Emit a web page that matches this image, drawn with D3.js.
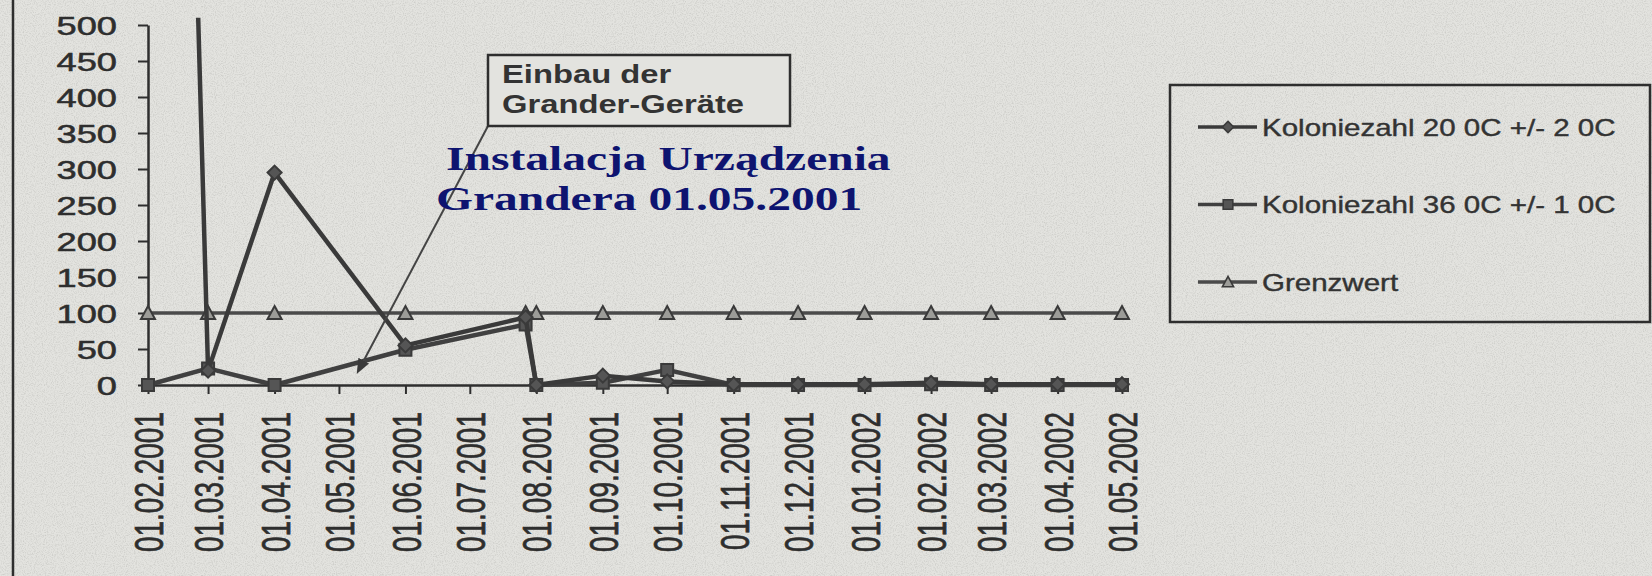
<!DOCTYPE html>
<html>
<head>
<meta charset="utf-8">
<script src="https://cdn.jsdelivr.net/npm/d3@7"></script>
<style>
  html, body { margin: 0; padding: 0; background: #e3e3df; }
  svg { display: block; }
</style>
</head>
<body>
<div id="chart"></div>
<script>
// sampling dates and values
const sampleDates = ['01.02.2001', '01.03.2001', '01.04.2001', '01.06.2001', '27.07.2001', '01.08.2001',
  '01.09.2001', '01.10.2001', '01.11.2001', '01.12.2001', '01.01.2002', '01.02.2002',
  '01.03.2002', '01.04.2002', '01.05.2002'];
const kolonie20 = [3000, 20, 295, 55, 94, 0, 13, 5, 1, 1, 1, 3, 1, 1, 1];
const kolonie36 = [0, 23, 0, 49, 84, 0, 3, 21, 0, 0, 0, 1, 0, 0, 0];
const grenzwert = [100, 100, 100, 100, 100, 100, 100, 100, 100, 100, 100, 100, 100, 100, 100];

const seriesNames = ['Koloniezahl 20 0C +/- 2 0C', 'Koloniezahl 36 0C +/- 1 0C', 'Grenzwert'];
const markerTypes = ['diamond', 'square', 'triangle'];

const xTickLabels = ['01.02.2001', '01.03.2001', '01.04.2001', '01.05.2001', '01.06.2001', '01.07.2001',
  '01.08.2001', '01.09.2001', '01.10.2001', '01.11.2001', '01.12.2001', '01.01.2002',
  '01.02.2002', '01.03.2002', '01.04.2002', '01.05.2002'];
const yTicks = [0, 50, 100, 150, 200, 250, 300, 350, 400, 450, 500];

const noteBox = ['Einbau der', 'Grander-Geräte'];
const noteBig = ['Instalacja Urządzenia', 'Grandera 01.05.2001'];

const w = 1652, h = 576;
const ink = '#2e2e2e';
const stretch = 1.45; // the scan is stretched sideways
const sans = '"Liberation Sans", Arial, sans-serif';

const parse = d3.timeParse('%d.%m.%Y');

const svg = d3.select('#chart').append('svg')
  .attr('width', w)
  .attr('height', h);

const defs = svg.append('defs');

// paper speckle
const f = defs.append('filter').attr('id', 'paper')
  .attr('x', 0).attr('y', 0).attr('width', '100%').attr('height', '100%');
f.append('feTurbulence')
  .attr('type', 'fractalNoise').attr('baseFrequency', 0.9)
  .attr('numOctaves', 2).attr('seed', 3);
f.append('feColorMatrix')
  .attr('type', 'matrix')
  .attr('values', '0 0 0 0 0.35  0 0 0 0 0.35  0 0 0 0 0.33  -2.2 0 0 0 1.25');

svg.append('rect').attr('width', w).attr('height', h).attr('fill', '#e3e3df');
svg.append('rect').attr('width', w).attr('height', h)
  .attr('filter', 'url(#paper)').attr('opacity', 0.35);

// frame line at the left edge of the page
svg.append('line')
  .attr('x1', 13).attr('x2', 13).attr('y1', 0).attr('y2', h)
  .attr('stroke', ink).attr('stroke-width', 2.5);

const xScale = d3.scaleTime()
  .domain([parse(xTickLabels[0]), parse(xTickLabels[xTickLabels.length - 1])])
  .range([148, 1122]);
const yScale = d3.scaleLinear().domain([0, 500]).range([385, 25]);

defs.append('clipPath').attr('id', 'plot-clip')
  .append('rect')
  .attr('x', 120).attr('y', yScale(510))
  .attr('width', 1030).attr('height', 400);

// axes
const yAxis = d3.axisLeft(yScale).tickValues(yTicks).tickSize(10).tickSizeOuter(0);
const gy = svg.append('g')
  .attr('transform', 'translate(' + xScale.range()[0] + ',0)')
  .call(yAxis);
gy.select('.domain').attr('stroke', ink).attr('stroke-width', 2.5);
gy.selectAll('.tick line').attr('stroke', ink).attr('stroke-width', 2);
gy.selectAll('.tick text')
  .attr('x', null).attr('dy', '0.36em')
  .attr('transform', 'translate(-31,0) scale(' + stretch + ',1)')
  .style('font-family', sans)
  .style('font-size', '25px')
  .attr('fill', ink)
  .attr('stroke', ink).attr('stroke-width', 0.5)
  .attr('text-anchor', 'end');

const xAxis = d3.axisBottom(xScale)
  .tickValues(xTickLabels.map(parse))
  .tickFormat(d3.timeFormat('%d.%m.%Y'))
  .tickSize(9).tickSizeOuter(0);
const gx = svg.append('g')
  .attr('transform', 'translate(0,' + yScale(0) + ')')
  .call(xAxis);
gx.select('.domain').attr('stroke', ink).attr('stroke-width', 2.5);
gx.selectAll('.tick line').attr('stroke', ink).attr('stroke-width', 2);
gx.selectAll('.tick text')
  .attr('y', null).attr('x', null).attr('dy', '0.36em')
  .attr('transform', 'translate(0,27) scale(' + stretch + ',1) rotate(-90)')
  .style('font-family', sans)
  .style('font-size', '28px')
  .attr('fill', ink)
  .attr('stroke', ink).attr('stroke-width', 0.5)
  .attr('text-anchor', 'end');

// markers
const markerPath = type => {
  if (type === 'diamond') return 'M0,-7L7,0L0,7L-7,0Z';
  if (type === 'square') return 'M-6,-6H6V6H-6Z';
  return 'M0,-7L7,6H-7Z';
};
const markerFill = type => (type === 'triangle' ? '#9c9c98' : '#555');

const seriesValues = [kolonie20, kolonie36, grenzwert];
const lineWidths = [4.5, 4.5, 3.5];
const lineColors = ['#3a3a3a', '#404040', '#4a4a4a'];

const plot = svg.append('g').attr('clip-path', 'url(#plot-clip)');

// draw the limit first, counts on top
[2, 1, 0].forEach(si => {
  const pts = sampleDates.map((d, i) => ({ date: parse(d), value: seriesValues[si][i] }));
  const line = d3.line()
    .x(d => xScale(d.date))
    .y(d => yScale(d.value));
  plot.append('path')
    .datum(pts)
    .attr('d', line)
    .attr('fill', 'none')
    .attr('stroke', lineColors[si])
    .attr('stroke-width', lineWidths[si])
    .attr('stroke-linejoin', 'round');
  plot.selectAll('.m' + si)
    .data(pts.filter(d => d.value <= 500))
    .enter()
    .append('path')
    .attr('class', 'm' + si)
    .attr('d', markerPath(markerTypes[si]))
    .attr('transform', d => 'translate(' + xScale(d.date) + ',' + yScale(d.value) + ')')
    .attr('fill', markerFill(markerTypes[si]))
    .attr('stroke', '#3a3a3a')
    .attr('stroke-width', 2);
});

// annotation box with pointer
defs.append('marker')
  .attr('id', 'arrow')
  .attr('viewBox', '0 0 10 10')
  .attr('refX', 1).attr('refY', 5)
  .attr('markerWidth', 15).attr('markerHeight', 15)
  .attr('markerUnits', 'userSpaceOnUse')
  .attr('orient', 'auto')
  .append('path')
  .attr('d', 'M0,1L10,5L0,9Z')
  .attr('fill', '#3a3a3a');

svg.append('line')
  .attr('x1', 488).attr('y1', 126)
  .attr('x2', 363).attr('y2', 362)
  .attr('stroke', '#444').attr('stroke-width', 2)
  .attr('marker-end', 'url(#arrow)');

svg.append('rect')
  .attr('x', 488).attr('y', 55)
  .attr('width', 302).attr('height', 71)
  .attr('fill', '#e3e3df')
  .attr('stroke', ink).attr('stroke-width', 2.5);

svg.selectAll('.note')
  .data(noteBox)
  .enter()
  .append('text')
  .attr('class', 'note')
  .attr('transform', (d, i) => 'translate(502,' + (83 + i * 30) + ') scale(1.31,1)')
  .style('font-family', sans)
  .style('font-size', '25px')
  .style('font-weight', 'bold')
  .attr('fill', '#333')
  .text(d => d);

svg.selectAll('.big')
  .data(noteBig)
  .enter()
  .append('text')
  .attr('class', 'big')
  .attr('transform', (d, i) => 'translate(' + (i ? 436 : 446) + ',' + (170 + i * 40) + ') scale(1.44,1)')
  .style('font-family', '"Liberation Serif", "Times New Roman", serif')
  .style('font-size', '33px')
  .style('font-weight', 'bold')
  .attr('fill', '#0e1470')
  .text(d => d);

// legend
const legend = svg.append('g');
legend.append('rect')
  .attr('x', 1170).attr('y', 85)
  .attr('width', 480).attr('height', 237)
  .attr('fill', 'none')
  .attr('stroke', ink).attr('stroke-width', 2.5);

seriesNames.forEach((name, i) => {
  const y = 127 + i * 77.5;
  legend.append('line')
    .attr('x1', 1198).attr('x2', 1257).attr('y1', y).attr('y2', y)
    .attr('stroke', lineColors[i]).attr('stroke-width', 3.5);
  legend.append('path')
    .attr('d', markerPath(markerTypes[i]))
    .attr('transform', 'translate(1228,' + y + ') scale(0.8)')
    .attr('fill', markerFill(markerTypes[i]))
    .attr('stroke', '#3a3a3a').attr('stroke-width', 2);
  legend.append('text')
    .attr('transform', 'translate(1262,' + y + ') scale(1.23,1)')
    .attr('dy', '0.36em')
    .style('font-family', sans)
    .style('font-size', '24px')
    .attr('fill', '#333')
    .attr('stroke', '#333').attr('stroke-width', 0.4)
    .text(name);
});
</script>
</body>
</html>
